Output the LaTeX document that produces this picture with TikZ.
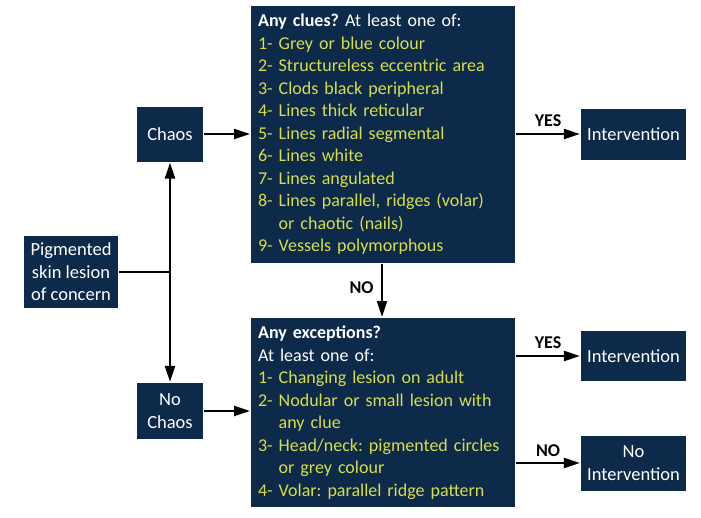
\documentclass[tikz,border=0pt]{standalone}
\usepackage{fontspec}
\setmainfont{Carlito}
\usetikzlibrary{arrows.meta}
\definecolor{navy}{HTML}{0E2A4A}
\definecolor{clue}{HTML}{D6DE4C}
\tikzset{
  box/.style={fill=navy,text=white,font=\fontsize{18.5}{22.5}\selectfont,align=center,inner sep=2pt},
  bigbox/.style={fill=navy,text=white,font=\fontsize{18}{22.5}\selectfont,align=left,
    anchor=north west,inner xsep=7pt,inner ysep=0pt},
  tag/.style={font=\bfseries\fontsize{18}{20}\selectfont,text=black},
  >={Triangle[length=16pt,width=10pt]}
}
\newcommand{\ind}{\phantom{8- }}
\frenchspacing
\begin{document}
\begin{tikzpicture}[x=1pt,y=-1pt,line width=2.2pt]
    \useasboundingbox (0,0) rectangle (701,517);
    % left column
    \node[box,minimum width=94pt,minimum height=72pt] (lesion) at (71,272)
      {Pigmented\\skin lesion\\of concern};
    \node[box,minimum width=66pt,minimum height=55pt] (chaos) at (170,134) {Chaos};
    \node[box,minimum width=66pt,minimum height=56pt] (nochaos) at (170,411) {No\\Chaos};
    \coordinate (split) at (170,272);
    % question boxes
    \node[bigbox,minimum width=264pt,minimum height=257pt,text width=250pt] (clues) at (250,5)
      {\textbf{Any clues?} At least one of:\\
      \color{clue}1- Grey or blue colour\\
      \color{clue}2- Structureless eccentric area\\
      \color{clue}3- Clods black peripheral\\
      \color{clue}4- Lines thick reticular\\
      \color{clue}5- Lines radial segmental\\
      \color{clue}6- Lines white\\
      \color{clue}7- Lines angulated\\
      \color{clue}8- Lines parallel, ridges (volar)\\
      \color{clue}\ind or chaotic (nails)\\
      \color{clue}9- Vessels polymorphous};
    \node[bigbox,minimum width=264pt,minimum height=189pt,text width=250pt] (exceptions) at (250,317)
      {\textbf{Any exceptions?}\\
      At least one of:\\
      \color{clue}1- Changing lesion on adult\\
      \color{clue}2- Nodular or small lesion with\\
      \color{clue}\ind any clue\\
      \color{clue}3- Head/neck: pigmented circles\\
      \color{clue}\ind or grey colour\\
      \color{clue}4- Volar: parallel ridge pattern};
    % outcomes
    \node[box,minimum width=105pt,minimum height=51pt] (yesclues) at (633.5,134) {Intervention};
    \node[box,minimum width=105pt,minimum height=50pt] (yesexc) at (633.5,356) {Intervention};
    \node[box,minimum width=105pt,minimum height=55pt] (noexc) at (633.5,463) {No\\Intervention};
    % connectors
    \draw (lesion.east |- split) -- (split);
    \draw[->] (split) -- (chaos.south);
    \draw[->] (split) -- (nochaos.north);
    \draw[->] (chaos.east) -- (chaos.east -| clues.west);
    \draw[->] (nochaos.east) -- (nochaos.east -| exceptions.west);
    \draw[->] (clues.east |- yesclues) -- node[tag,above=3pt]{YES} (yesclues.west);
    \draw[->] (clues.south -| 382,0) -- node[tag,left=4pt,pos=0.45]{NO} (exceptions.north -| 382,0);
    \draw[->] (exceptions.east |- yesexc) -- node[tag,above=3pt]{YES} (yesexc.west);
    \draw[->] (exceptions.east |- noexc) -- node[tag,above=2pt]{NO} (noexc.west);
\end{tikzpicture}
\end{document}
